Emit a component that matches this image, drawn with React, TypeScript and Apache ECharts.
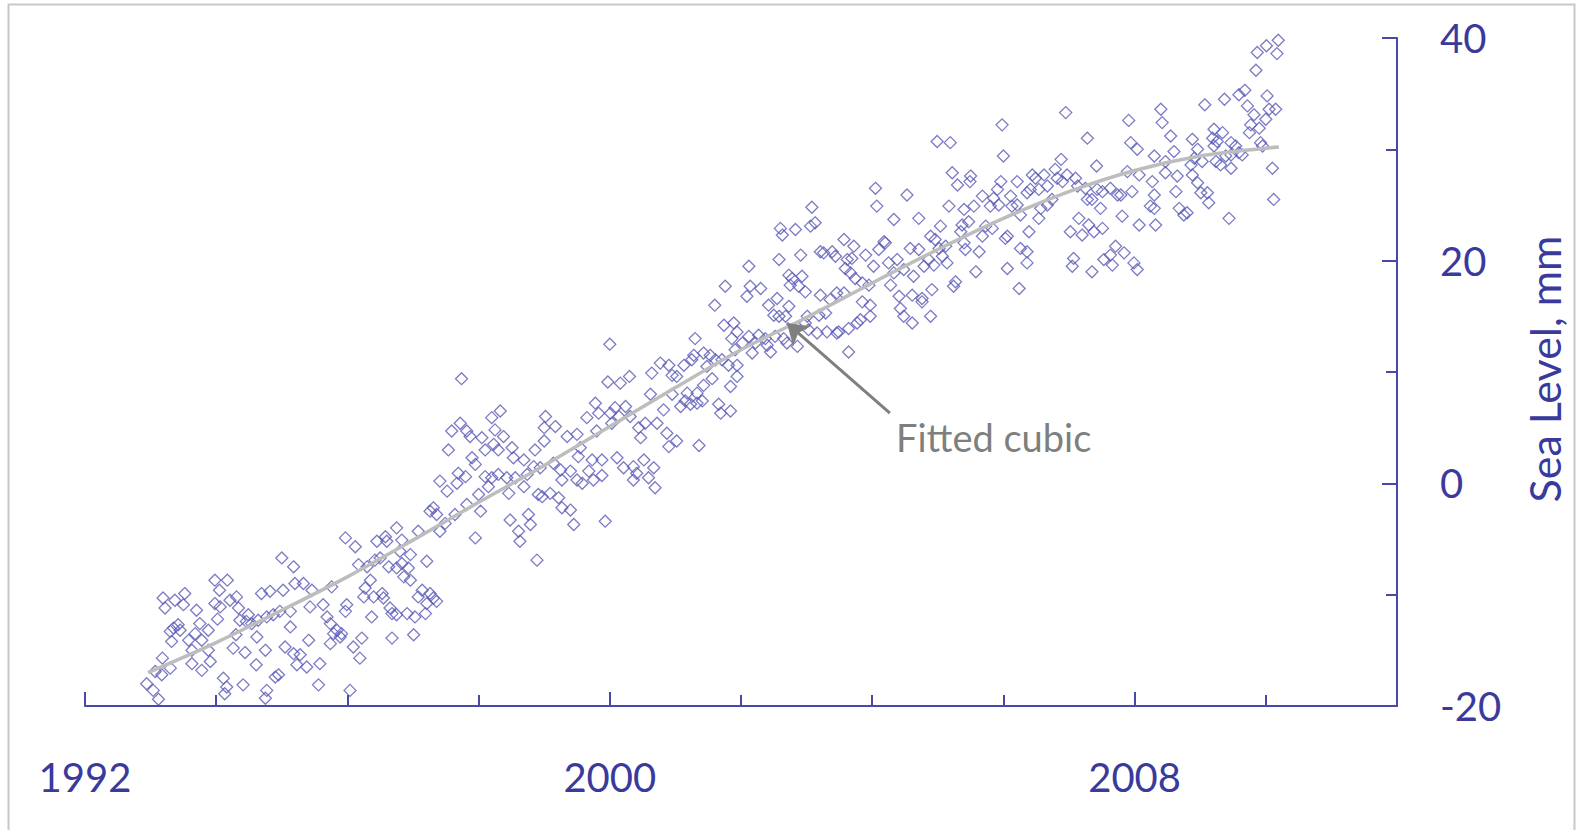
import React, { useEffect, useRef } from "react";
import * as echarts from "echarts";

const FONT = "Lato, 'Noto Sans', sans-serif";
const AXIS_COLOR = "#4848a8";
const TEXT_COLOR = "#3a3a9c";
const MARKER_COLOR = "#5a5ab6";
const FIT_COLOR = "#bdbdbd";
const NOTE_COLOR = "#7f7f7f";

const xTickLabels = [1992, 2000, 2008];
const yTickLabels = [-20, 0, 20, 40];

// [year, sea level mm]
const pts1993to1995 = [
  [1992.94,-18.0],[1993.04,-18.6],[1993.12,-19.4],[1993.07,-16.9],[1993.17,-17.2],[1993.18,-15.7],[1993.30,-16.6],
  [1993.19,-10.3],[1993.22,-11.2],[1993.37,-10.5],[1993.50,-10.9],[1993.52,-9.9],[1993.70,-11.4],[1993.35,-13.0],
  [1993.42,-12.7],[1993.30,-13.3],[1993.45,-13.2],[1993.32,-14.2],[1993.58,-14.1],[1993.63,-15.0],[1993.68,-13.5],
  [1993.75,-12.6],[1993.78,-14.1],[1993.88,-13.2],[1993.88,-15.0],[1993.91,-16.0],[1993.78,-16.8],[1993.63,-16.2],
  [1993.98,-8.7],[1994.05,-9.6],[1994.17,-8.7],[1993.98,-10.8],[1994.06,-11.1],[1994.02,-12.2],[1994.21,-10.5],
  [1994.31,-10.2],[1994.34,-11.2],[1994.36,-12.3],[1994.30,-13.6],[1994.26,-14.8],[1994.44,-15.2],[1994.46,-12.4],
  [1994.49,-11.8],[1994.54,-12.6],[1994.64,-12.3],[1994.62,-13.8],[1994.61,-16.3],[1994.75,-15.0],[1994.69,-9.9],
  [1994.82,-9.7],[1994.77,-12.0],[1994.87,-11.8],[1995.02,-9.6],[1995.00,-6.7],[1995.18,-7.5],[1995.20,-9.0],
  [1995.33,-9.0],[1995.46,-9.6],[1995.43,-11.1],[1994.97,-11.5],[1995.13,-11.5],[1995.13,-12.9],[1995.05,-14.7],
  [1995.18,-15.3],[1995.28,-15.4],[1995.23,-16.3],[1995.38,-16.5],[1995.41,-14.1],[1995.58,-16.2],[1995.56,-18.1],
  [1995.63,-10.9],[1995.74,-12.6],[1995.69,-12.0],[1995.76,-9.3],[1995.74,-14.4],[1995.79,-13.5],[1994.11,-17.5],
  [1994.16,-18.3],[1994.13,-18.9],[1994.41,-18.1],[1994.77,-18.6],[1994.75,-19.3],[1994.90,-17.4],[1994.95,-17.2],
];

const pts1996to1998 = [
  [1997.74,9.4],[1995.84,-13.2],[1995.89,-13.8],[1995.91,-13.5],[1995.99,-10.9],[1995.97,-11.5],[1996.09,-14.7],
  [1996.19,-15.7],[1996.22,-13.9],[1996.04,-18.6],[1996.37,-12.0],[1996.68,-13.9],[1997.01,-13.6],[1995.97,-4.9],
  [1996.12,-5.7],[1996.17,-7.3],[1996.30,-7.5],[1996.35,-8.7],[1996.27,-9.4],[1996.25,-10.2],[1996.40,-10.2],
  [1996.53,-9.9],[1996.55,-10.3],[1996.65,-11.2],[1996.68,-11.7],[1996.75,-11.8],[1996.91,-11.7],[1997.03,-12.0],
  [1997.19,-11.7],[1997.14,-9.6],[1997.08,-10.2],[1997.26,-9.9],[1997.31,-10.3],[1997.36,-10.6],[1997.21,-10.8],
  [1996.96,-8.7],[1996.86,-8.4],[1996.93,-7.6],[1996.83,-7.2],[1996.75,-7.6],[1996.63,-7.5],[1996.50,-6.7],
  [1996.42,-6.9],[1996.45,-5.2],[1996.58,-4.8],[1996.60,-5.2],[1996.75,-4.0],[1996.83,-5.1],[1996.80,-6.1],
  [1996.96,-6.4],[1997.08,-4.3],[1997.21,-7.0],[1997.26,-2.5],[1997.31,-2.2],[1997.36,-2.8],[1997.41,-4.3],
  [1997.49,-3.6],[1997.64,-2.8],[1997.41,0.2],[1997.52,-0.7],[1997.67,0.0],[1997.69,0.9],[1997.80,0.6],
  [1997.54,3.0],[1997.59,4.7],[1997.72,5.4],[1997.82,4.7],[1997.87,4.2],[1998.05,4.1],[1997.90,2.3],
  [1997.95,1.7],[1998.10,3.0],[1998.20,5.9],[1998.33,6.5],[1998.25,4.8],[1998.38,4.2],[1998.23,3.5],
  [1998.30,3.0],[1998.51,3.2],[1998.53,2.3],[1998.69,2.1],[1998.84,1.5],[1998.86,3.0],[1998.10,0.6],
  [1998.20,0.5],[1998.15,-0.3],[1998.30,0.8],[1998.43,0.5],[1998.56,0.5],[1998.74,0.8],[1998.69,-0.3],
  [1998.46,-0.9],[1998.00,-1.0],[1997.82,-1.9],[1998.03,-2.5],[1997.95,-4.9],[1998.48,-3.3],[1998.61,-4.3],
  [1998.76,-2.8],[1998.79,-3.7],[1998.63,-5.2],[1998.89,-6.9],[1998.91,-1.0],
];

const pts1999to2001 = [
  [2001.76,17.7],[2001.60,16.0],[2001.74,14.2],[2001.89,14.4],[2001.94,13.6],[2001.86,13.0],[2001.91,12.0],
  [2001.30,13.0],[2000.00,12.5],[1999.97,9.1],[2000.16,9.0],[2000.30,9.6],[2000.64,9.9],[2000.77,10.8],
  [2000.90,10.6],[2000.95,9.7],[2001.02,9.6],[2001.13,10.6],[2001.25,11.1],[2001.28,11.5],[2001.43,11.7],
  [2001.53,11.5],[2001.61,11.1],[2001.71,11.1],[2001.48,10.5],[2001.81,10.6],[2001.94,9.6],[2001.56,9.4],
  [2001.43,8.8],[2001.33,8.1],[2001.18,8.1],[2001.15,7.4],[2001.23,7.1],[2001.08,6.9],[2001.33,7.2],
  [2001.41,7.4],[2001.66,7.1],[2001.69,6.3],[2001.84,6.5],[2001.84,8.7],[2000.62,8.0],[2000.95,8.0],
  [2000.82,6.6],[2000.72,5.4],[2000.87,4.5],[2001.02,3.8],[2000.90,3.3],[2001.36,3.4],[2000.44,5.0],
  [2000.47,4.1],[2000.54,5.4],[1999.78,7.2],[1999.83,6.3],[1999.65,5.9],[1999.80,4.7],[2000.01,6.3],
  [2000.08,6.8],[2000.14,6.0],[2000.24,6.9],[2000.31,6.0],[2000.03,5.4],[1999.50,4.4],[1999.35,4.2],
  [1999.55,3.2],[1999.52,2.4],[1999.73,2.1],[1999.88,2.1],[1999.68,1.1],[1999.75,0.3],[1999.88,0.7],
  [1999.58,0.0],[1999.50,0.3],[1999.40,1.1],[1999.27,0.3],[1999.25,1.2],[1999.14,1.8],[2000.11,2.3],
  [2000.21,1.4],[2000.36,1.5],[2000.41,0.9],[2000.52,2.1],[2000.67,1.4],[2000.59,0.5],[2000.69,-0.4],
  [2000.36,0.3],[1999.09,-0.9],[1998.97,-1.2],[1999.22,-1.3],[1999.27,-2.2],[1999.40,-2.4],[1999.45,-3.7],
  [1999.93,-3.4],[1999.02,6.0],[1999.17,5.1],[1999.00,5.0],[1999.00,3.8],[1998.94,1.4],
];

const pts2002to2004 = [
  [2004.05,26.5],[2004.07,24.9],[2004.53,25.9],[2004.33,23.7],[2004.71,23.8],[2003.08,24.8],[2002.60,22.9],
  [2002.63,22.3],[2002.83,22.8],[2003.06,23.1],[2003.13,23.4],[2003.57,21.9],[2003.72,21.3],[2003.90,20.5],
  [2004.10,21.0],[2004.20,21.6],[2004.18,21.7],[2004.58,21.1],[2004.71,21.0],[2004.89,22.2],[2004.96,21.9],
  [2005.02,21.1],[2002.91,20.5],[2002.58,20.1],[2002.12,19.5],[2003.21,20.8],[2003.26,20.7],[2003.39,20.8],
  [2003.44,20.4],[2003.62,20.1],[2003.69,20.2],[2003.59,19.3],[2003.67,18.9],[2003.74,18.4],[2003.85,18.0],
  [2003.95,17.8],[2004.02,19.5],[2004.25,19.8],[2004.38,20.1],[2004.48,19.2],[2004.33,18.9],[2004.63,18.6],
  [2004.79,19.5],[2004.86,20.1],[2004.94,19.6],[2002.73,18.7],[2002.78,18.4],[2002.93,18.6],[2002.75,17.8],
  [2002.88,17.7],[2002.98,17.2],[2002.14,17.7],[2002.30,17.5],[2002.09,16.8],[2002.42,16.0],[2002.55,16.6],
  [2002.58,15.0],[2002.50,15.1],[2002.68,15.0],[2002.73,15.9],[2003.21,16.9],[2003.36,16.5],[2003.46,17.1],
  [2003.57,17.1],[2003.85,16.3],[2003.97,16.0],[2003.97,15.0],[2003.82,14.7],[2003.77,14.4],[2003.64,13.9],
  [2003.49,13.6],[2003.46,13.5],[2003.31,13.6],[2003.29,15.3],[2003.19,15.1],[2003.01,15.0],[2002.98,14.4],
  [2003.16,13.5],[2003.03,13.8],[2004.28,17.8],[2004.41,16.8],[2004.61,16.9],[2004.76,16.6],[2004.76,16.3],
  [2004.91,17.4],[2004.43,15.7],[2004.48,15.0],[2004.61,14.4],[2004.89,15.0],[2002.02,12.6],[2002.12,13.2],
  [2002.22,12.6],[2002.27,13.3],[2002.37,13.0],[2002.40,12.4],[2002.45,11.8],[2002.52,13.2],[2002.65,13.0],
  [2002.70,12.6],[2002.86,12.3],[2003.64,11.8],[2001.94,10.6],[2002.17,11.7],
];

const pts2005to2007 = [
  [2006.95,33.3],[2007.91,32.6],[2005.98,32.2],[2004.99,30.7],[2005.19,30.6],[2007.28,31.0],[2007.94,30.6],
  [2008.04,30.0],[2006.00,29.4],[2006.88,29.1],[2007.42,28.5],[2007.89,28.0],[2005.22,27.9],[2005.50,27.6],
  [2005.49,27.1],[2005.30,26.8],[2005.96,27.1],[2006.21,27.1],[2006.44,27.7],[2006.49,27.4],[2006.62,27.7],
  [2006.79,28.2],[2006.82,27.4],[2006.97,27.7],[2007.10,27.4],[2007.13,26.7],[2006.90,27.1],[2006.67,26.7],
  [2006.54,26.4],[2006.41,26.4],[2006.36,26.1],[2006.11,25.8],[2005.91,26.4],[2005.85,25.6],[2005.68,25.8],
  [2005.93,25.0],[2005.80,24.9],[2005.55,24.9],[2005.40,24.6],[2005.17,24.9],[2006.13,24.9],[2006.21,25.0],
  [2006.26,24.1],[2006.54,23.8],[2006.67,25.0],[2006.74,25.5],[2006.57,24.7],[2007.25,26.5],[2007.28,25.5],
  [2007.43,26.4],[2007.51,26.2],[2007.63,26.5],[2007.74,25.9],[2007.79,25.9],[2007.48,24.7],[2007.35,25.5],
  [2007.96,26.2],[2008.07,27.7],[2007.15,23.8],[2007.30,23.2],[2007.38,22.6],[2007.51,22.9],[2007.20,22.3],
  [2007.02,22.6],[2007.81,24.0],[2008.07,23.2],[2005.37,23.2],[2005.47,23.5],[2005.35,22.6],[2005.04,23.1],
  [2005.12,21.3],[2005.14,19.8],[2005.07,20.4],[2005.40,21.6],[2005.42,21.0],[2005.63,20.8],[2005.68,22.2],
  [2005.83,22.9],[2005.73,23.1],[2006.06,22.2],[2006.03,22.0],[2006.39,22.6],[2006.26,21.1],[2006.36,20.8],
  [2006.36,19.8],[2006.06,19.3],[2005.58,19.0],[2005.27,18.1],[2005.24,17.7],[2006.24,17.5],[2007.07,20.2],
  [2007.05,19.5],[2007.35,19.0],[2007.53,20.1],[2007.63,20.5],[2007.71,21.3],[2007.84,20.7],[2007.66,19.6],
  [2007.99,19.8],[2008.04,19.2],
];

const pts2008to2010 = [
  [2010.19,39.8],[2010.01,39.3],[2009.87,38.7],[2010.17,38.6],[2009.85,37.1],[2009.59,34.9],[2009.68,35.3],
  [2010.02,34.8],[2009.72,33.9],[2009.37,34.5],[2009.07,34.0],[2008.40,33.6],[2008.42,32.4],[2009.82,33.1],
  [2010.05,33.6],[2010.15,33.6],[2010.00,32.7],[2009.77,32.2],[2009.90,31.9],[2009.75,31.5],[2009.21,31.8],
  [2009.34,31.5],[2009.26,30.7],[2008.88,30.9],[2008.55,31.2],[2008.60,29.8],[2008.96,30.0],[2008.91,29.2],
  [2009.03,28.9],[2008.86,28.6],[2009.19,31.0],[2009.21,30.3],[2009.24,28.9],[2009.31,28.6],[2009.47,28.3],
  [2009.47,30.6],[2009.54,30.3],[2009.59,29.7],[2009.64,29.5],[2009.47,29.5],[2009.39,29.4],[2008.47,28.9],
  [2008.30,29.4],[2008.27,27.1],[2008.47,27.9],[2008.65,27.6],[2008.30,25.9],[2008.24,24.9],[2008.88,27.7],
  [2008.96,27.0],[2009.01,26.1],[2009.11,26.1],[2008.63,26.2],[2009.13,25.2],[2008.68,24.7],[2008.75,24.1],
  [2008.80,24.3],[2008.32,23.2],[2008.30,24.7],[2009.44,23.8],[2010.10,28.3],[2010.12,25.5],[2009.92,30.6],
  [2009.95,30.3],
];

// fitted cubic
const fitYears = [1992.96, 1994, 1995, 1996, 1997, 1998, 1999, 2000, 2001, 2002, 2003, 2004, 2005, 2006, 2007, 2008, 2009, 2010, 2010.2];
const fitValues = [-17.0, -14.3, -11.4, -8.4, -5.1, -1.7, 1.6, 5.1, 8.6, 12.0, 14.9, 18.0, 21.0, 23.8, 26.2, 28.1, 29.4, 30.1, 30.2];

// annotation arrow: tail and tip in data units
const arrowTail = [2004.27, 6.3];
const arrowTip = [2002.70, 14.4];

export default function App() {
  const ref = useRef<HTMLDivElement>(null);

  useEffect(() => {
    if (!ref.current) return;
    const chart = echarts.init(ref.current, null, { renderer: "svg" });
    const points = [
      ...pts1993to1995,
      ...pts1996to1998,
      ...pts1999to2001,
      ...pts2002to2004,
      ...pts2005to2007,
      ...pts2008to2010,
    ];
    const fit = fitYears.map((y, i) => [y, fitValues[i]]);

    chart.setOption({
      animation: false,
      backgroundColor: "#ffffff",
      grid: { left: 85, top: 38, width: 1312, height: 668 },
      xAxis: [
        {
          type: "value",
          position: "bottom",
          min: 1992,
          max: 2012,
          interval: 2,
          axisLine: { show: true, onZero: false, lineStyle: { color: AXIS_COLOR, width: 2 } },
          axisTick: { show: true, inside: true, length: 11, lineStyle: { color: AXIS_COLOR, width: 2 } },
          axisLabel: { show: false },
          splitLine: { show: false },
        },
        {
          type: "value",
          position: "bottom",
          min: 1992,
          max: 2012,
          interval: 8,
          axisLine: { show: false, onZero: false },
          axisTick: { show: true, inside: true, length: 14, lineStyle: { color: AXIS_COLOR, width: 2 } },
          axisLabel: {
            show: true,
            margin: 51,
            fontSize: 40,
            lineHeight: 40,
            fontFamily: FONT,
            color: TEXT_COLOR,
            showMaxLabel: false,
            formatter: (v: number) => (xTickLabels.includes(v) ? String(v) : ""),
          },
          splitLine: { show: false },
        },
      ],
      yAxis: {
        type: "value",
        position: "right",
        min: -20,
        max: 40,
        interval: 20,
        axisLine: { show: true, onZero: false, lineStyle: { color: AXIS_COLOR, width: 2 } },
        axisTick: { show: true, inside: true, length: 15, lineStyle: { color: AXIS_COLOR, width: 2 } },
        minorTick: { show: true, splitNumber: 2, length: 11, lineStyle: { color: AXIS_COLOR, width: 2 } },
        axisLabel: {
          show: true,
          margin: 43,
          fontSize: 40,
          fontFamily: FONT,
          color: TEXT_COLOR,
          formatter: (v: number) => (yTickLabels.includes(v) ? String(v) : ""),
        },
        splitLine: { show: false },
        minorSplitLine: { show: false },
      },
      series: [
        {
          type: "scatter",
          xAxisIndex: 0,
          data: points,
          symbol: "diamond",
          symbolSize: 12,
          silent: true,
          itemStyle: { color: "transparent", borderColor: MARKER_COLOR, borderWidth: 1.3 },
          emphasis: { disabled: true },
        },
        {
          type: "line",
          xAxisIndex: 0,
          data: fit,
          smooth: 0.3,
          symbol: "none",
          silent: true,
          lineStyle: { color: FIT_COLOR, width: 3.5 },
          emphasis: { disabled: true },
          markLine: {
            silent: true,
            symbol: ["none", "arrow"],
            symbolSize: 20,
            lineStyle: { color: NOTE_COLOR, width: 3, type: "solid" },
            itemStyle: { color: NOTE_COLOR },
            label: { show: false },
            emphasis: { disabled: true },
            data: [[{ coord: arrowTail }, { coord: arrowTip }]],
          },
        },
      ],
      graphic: [
        {
          type: "rect",
          silent: true,
          z: -10,
          shape: { x: 8.5, y: 4.5, width: 1566, height: 850 },
          style: { fill: "none", stroke: "#c8c8c8", lineWidth: 2 },
        },
        {
          type: "text",
          silent: true,
          x: 896,
          y: 437,
          style: {
            text: "Fitted cubic",
            fill: NOTE_COLOR,
            fontSize: 38,
            fontFamily: FONT,
            align: "left",
            verticalAlign: "middle",
          },
        },
        {
          type: "text",
          silent: true,
          x: 1544,
          y: 369,
          rotation: Math.PI / 2,
          style: {
            text: "Sea Level, mm",
            fill: TEXT_COLOR,
            fontSize: 43,
            fontFamily: FONT,
            align: "center",
            verticalAlign: "middle",
          },
        },
      ],
    });
    return () => chart.dispose();
  }, []);

  return (
    <div
      ref={ref}
      style={{ position: "fixed", left: 0, top: 0, width: 1577, height: 830, background: "#fff" }}
    />
  );
}
